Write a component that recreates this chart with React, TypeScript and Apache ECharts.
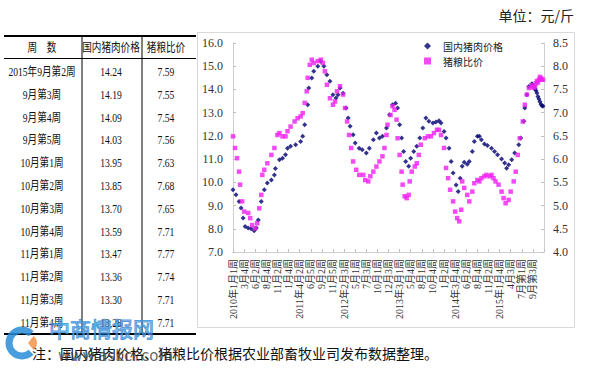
import React, { useEffect, useRef } from 'react';
import * as echarts from 'echarts';

// x-axis labels (one every 11 weeks, week index 0 = 2010年1月1周)
const xLabels = [
  '2010年1月1周', '3月4周', '6月2周', '8月4周', '11月2周', '1月4周', '2011年4月2周',
  '6月5周', '9月2周', '11月5周', '2012年2月3周', '5月1周', '7月3周', '10月1周', '12月3周',
  '2013年3月1周', '5月4周', '8月1周', '10月4周', '1月2周', '2014年3月4周', '6月2周',
  '8月4周', '11月2周', '2015年1月4周', '4月3周', '7月第1周', '9月第3周',
];
const labelStep = 11;

// table (latest 12 weeks)
const tableWeeks = [
  '2015年9月第2周', '9月第3周', '9月第4周', '9月第5周', '10月第1周', '10月第2周',
  '10月第3周', '10月第4周', '11月第1周', '11月第2周', '11月第3周', '11月第4周',
];
const tablePrice = [14.24, 14.19, 14.09, 14.03, 13.95, 13.85, 13.7, 13.59, 13.47, 13.36, 13.3, 13.28];
const tableRatio = [7.59, 7.55, 7.54, 7.56, 7.63, 7.68, 7.65, 7.71, 7.77, 7.74, 7.71, 7.71];
const tableStartWeek = 296;

// 国内猪肉价格 (元/斤), [week index, value]
const pricePoints: [number, number][] = [
  [0, 9.68], [3, 9.46], [6, 9.18], [8, 8.89], [10, 8.46], [12, 8.1], [15, 8.03], [18, 8.0],
  [21, 7.91], [23, 8.03], [25, 8.38], [28, 9.18], [31, 9.68], [34, 9.97], [38, 10.1], [41, 10.32],
  [42, 10.6], [46, 10.97], [49, 11.04], [52, 11.19], [54, 11.47], [57, 11.55], [62, 11.62],
  [67, 11.76], [69, 11.98], [71, 12.48], [74, 13.34], [75, 14.06], [78, 14.49], [80, 14.78],
  [84, 15.0], [87, 15.21], [90, 15.0], [93, 14.63], [96, 14.35], [99, 13.77], [102, 13.63],
  [104, 13.77], [106, 14.06], [109, 13.84], [112, 13.2], [114, 12.77], [116, 12.41], [119, 12.05],
  [121, 11.69], [125, 11.47], [128, 11.4], [132, 11.26], [135, 11.47], [139, 11.83], [142, 12.12],
  [145, 11.91], [148, 11.98], [152, 12.34], [155, 12.91], [158, 13.34], [161, 13.41], [163, 13.2],
  [165, 12.48], [167, 11.91], [169, 11.33], [171, 10.9], [174, 10.69], [176, 11.04], [179, 11.33],
  [182, 11.55], [185, 11.91], [188, 12.34], [191, 12.77], [194, 12.63], [198, 12.55], [201, 12.6],
  [204, 12.65], [206, 12.55], [209, 12.19], [211, 11.91], [214, 11.47], [216, 10.9], [218, 10.4],
  [221, 9.89], [223, 9.61], [225, 10.18], [227, 10.69], [229, 10.87], [232, 10.78], [234, 10.9],
  [237, 11.33], [239, 11.76], [242, 11.98], [244, 11.98], [246, 11.83], [249, 11.65], [252, 11.59],
  [256, 11.47], [259, 11.33], [262, 11.19], [266, 11.01], [269, 10.83], [271, 10.61], [273, 10.76],
  [276, 10.97], [279, 11.26], [283, 11.62], [285, 11.91], [288, 12.63], [289, 13.2], [291, 13.77],
  [293, 14.13],
];

// 猪粮比价, [week index, value]
const ratioPoints: [number, number][] = [
  [0, 6.49], [2, 6.24], [4, 6.02], [6, 5.73], [7, 5.45], [9, 5.09], [11, 4.87], [15, 4.84],
  [17, 4.73], [19, 4.58], [22, 4.51], [24, 4.62], [26, 4.94], [28, 5.23], [29, 5.66], [31, 5.77],
  [34, 5.91], [38, 6.09], [41, 6.24], [44, 6.52], [46, 6.56], [49, 6.49], [52, 6.49], [54, 6.6],
  [57, 6.7], [61, 6.81], [64, 6.88], [67, 6.92], [69, 6.99], [71, 7.21], [73, 7.46], [74, 7.75],
  [76, 8.03], [78, 8.14], [80, 8.07], [84, 8.11], [87, 8.14], [89, 8.07], [91, 7.89], [93, 7.6],
  [96, 7.31], [99, 7.17], [101, 7.24], [103, 7.46], [106, 7.57], [109, 7.39], [111, 7.1],
  [113, 6.81], [115, 6.52], [117, 6.24], [119, 5.95], [122, 5.77], [125, 5.66], [129, 5.66],
  [131, 5.55], [134, 5.52], [136, 5.63], [139, 5.73], [142, 5.84], [145, 5.95], [148, 6.06],
  [150, 6.24], [152, 6.52], [153, 6.74], [156, 6.95], [158, 7.14], [160, 7.06], [162, 6.85],
  [163, 6.45], [165, 6.09], [167, 5.73], [168, 5.45], [170, 5.2], [172, 5.16], [174, 5.23],
  [175, 5.52], [177, 5.73], [180, 5.84], [182, 5.91], [184, 6.09], [186, 6.31], [190, 6.45],
  [193, 6.49], [196, 6.49], [199, 6.56], [202, 6.63], [204, 6.63], [206, 6.52], [209, 6.24],
  [211, 5.81], [213, 5.59], [215, 5.34], [218, 5.09], [220, 4.87], [222, 4.73], [224, 4.66],
  [226, 4.91], [227, 5.52], [229, 5.38], [232, 5.23], [234, 5.09], [237, 5.3], [239, 5.48],
  [242, 5.55], [244, 5.52], [246, 5.59], [249, 5.63], [251, 5.66], [254, 5.63], [256, 5.66],
  [258, 5.59], [260, 5.52], [263, 5.45], [266, 5.3], [268, 5.16], [270, 5.05], [273, 5.12],
  [275, 5.3], [278, 5.52], [280, 5.73], [282, 6.09], [284, 6.45], [287, 6.81], [289, 7.17],
  [291, 7.39], [293, 7.53],
];

const SERIF = "'Liberation Serif', 'Noto Sans CJK SC', serif";
const CJK = "'Noto Sans CJK SC', sans-serif";

export default function App() {
  const ref = useRef<HTMLDivElement>(null);

  useEffect(() => {
    const chart = echarts.init(ref.current!, undefined, { renderer: 'svg' });

    const priceData = pricePoints.concat(
      tablePrice.map((v, i) => [tableStartWeek + i, v] as [number, number])
    );
    const ratioData = ratioPoints.concat(
      tableRatio.map((v, i) => [tableStartWeek + i, v] as [number, number])
    );

    const colX = [42, 111, 166];
    const rowY0 = 71.5;
    const rowH = 22.8;
    const txt = (text: string, x: number, y: number, extra: any = {}) => ({
      type: 'text',
      x,
      y,
      scaleX: 0.8,
      style: {
        text,
        fontSize: 12,
        fontFamily: SERIF,
        fill: '#111',
        align: 'center',
        textAlign: 'center',
        verticalAlign: 'middle',
        textVerticalAlign: 'middle',
        ...extra,
      },
    });
    const tableEls: any[] = [
      txt('周　数', colX[0], 47.5),
      txt('国内猪肉价格', colX[1], 47.5),
      txt('猪粮比价', colX[2], 47.5),
    ];
    tableWeeks.forEach((w, i) => {
      const y = rowY0 + i * rowH;
      tableEls.push(txt(w, colX[0], y));
      tableEls.push(txt(tablePrice[i].toFixed(2), colX[1], y));
      tableEls.push(txt(tableRatio[i].toFixed(2), colX[2], y));
    });
    const line = (x1: number, y1: number, x2: number, y2: number, w: number) => ({
      type: 'line',
      shape: { x1, y1, x2, y2 },
      style: { stroke: '#000', lineWidth: w },
    });
    tableEls.push(line(4, 36, 196, 36, 2));
    tableEls.push(line(4, 58.5, 196, 58.5, 1));
    tableEls.push(line(82, 36, 82, 334, 1));
    tableEls.push(line(142, 36, 142, 334, 1));
    tableEls.push(line(4, 334, 196, 334, 2));

    const option: any = {
      animation: false,
      backgroundColor: '#fff',
      grid: { left: 233, right: 56, top: 43, bottom: 116, containLabel: false },
      legend: {
        orient: 'vertical',
        left: 424,
        top: 41,
        padding: 0,
        itemWidth: 7,
        itemHeight: 7,
        itemGap: 5,
        textStyle: { fontSize: 10, fontFamily: CJK, color: '#222', padding: [0, 0, 0, 7] },
        data: [
          { name: '国内猪肉价格', icon: 'diamond' },
          { name: '猪粮比价', icon: 'rect' },
        ],
      },
      xAxis: {
        type: 'value',
        min: 0,
        max: labelStep * xLabels.length,
        interval: labelStep,
        splitLine: { show: false },
        axisLine: { lineStyle: { color: '#cfcfcf' } },
        axisTick: { inside: true, length: 3, lineStyle: { color: '#bfbfbf' } },
        axisLabel: {
          rotate: 90,
          fontSize: 10,
          margin: 7,
          color: '#333',
          fontFamily: SERIF,
          formatter: (v: number) => (v % labelStep === 0 ? xLabels[v / labelStep] ?? '' : ''),
        },
      },
      yAxis: [
        {
          type: 'value',
          position: 'left',
          min: 7,
          max: 16,
          interval: 1,
          splitLine: { show: false },
          axisLine: { show: true, lineStyle: { color: '#cfcfcf' } },
          axisTick: { show: true, inside: true, length: 3, lineStyle: { color: '#bfbfbf' } },
          axisLabel: { formatter: (v: number) => v.toFixed(1), fontSize: 12, fontFamily: SERIF, color: '#333', margin: 10 },
        },
        {
          type: 'value',
          position: 'right',
          min: 4,
          max: 8.5,
          interval: 0.5,
          splitLine: { show: false },
          axisLine: { show: true, lineStyle: { color: '#cfcfcf' } },
          axisTick: { show: true, inside: true, length: 3, lineStyle: { color: '#bfbfbf' } },
          axisLabel: { formatter: (v: number) => v.toFixed(1), fontSize: 12, fontFamily: SERIF, color: '#333', margin: 9 },
        },
      ],
      series: [
        {
          type: 'scatter',
          name: '国内猪肉价格',
          yAxisIndex: 0,
          symbol: 'diamond',
          symbolSize: 5,
          itemStyle: { color: '#000070' },
          data: priceData,
        },
        {
          type: 'scatter',
          name: '猪粮比价',
          yAxisIndex: 1,
          symbol: 'rect',
          symbolSize: 4.5,
          itemStyle: { color: '#f01ef0' },
          data: ratioData,
        },
      ],
      graphic: [
        {
          type: 'rect',
          z: -1,
          shape: { x: 197.5, y: 32.5, width: 377, height: 295 },
          style: { fill: 'none', stroke: '#d9d9d9', lineWidth: 1 },
        },
        {
          type: 'text',
          x: 574,
          y: 15,
          style: {
            text: '单位：元/斤',
            fontSize: 14,
            fontFamily: CJK,
            fill: '#222',
            align: 'right',
            textAlign: 'right',
            verticalAlign: 'middle',
            textVerticalAlign: 'middle',
          },
        },
        ...tableEls,
        {
          type: 'text',
          x: 32,
          y: 353,
          style: {
            text: '注：国内猪肉价格、猪粮比价根据农业部畜牧业司发布数据整理。',
            fontSize: 14,
            fontFamily: CJK,
            fill: '#111',
            align: 'left',
            textAlign: 'left',
            verticalAlign: 'middle',
            textVerticalAlign: 'middle',
          },
        },
        // watermark logo
        {
          type: 'arc',
          shape: { cx: 22, cy: 343, r: 13, startAngle: 0.8, endAngle: Math.PI * 2 - 0.8 },
          style: { stroke: 'rgba(40,140,215,0.85)', lineWidth: 7, fill: 'none' },
        },
        {
          type: 'sector',
          shape: { cx: 28, cy: 343, r0: 0, r: 9, startAngle: -0.9, endAngle: 0.9 },
          style: { fill: 'rgba(240,140,60,0.8)' },
        },
        {
          type: 'text',
          x: 49,
          y: 327.5,
          style: {
            text: '中商情报网',
            fontSize: 21,
            fontFamily: CJK,
            fill: 'rgba(80,160,225,0.55)',
            stroke: 'rgba(40,130,210,0.8)',
            lineWidth: 1,
            align: 'left',
            textAlign: 'left',
            verticalAlign: 'middle',
            textVerticalAlign: 'middle',
          },
        },
        {
          type: 'text',
          x: 58,
          y: 356,
          style: {
            text: 'www.askci.com',
            fontSize: 15,
            fontFamily: "'DejaVu Sans', sans-serif",
            fill: 'rgba(50,50,50,0.75)',
            align: 'left',
            textAlign: 'left',
            verticalAlign: 'middle',
            textVerticalAlign: 'middle',
          },
        },
      ],
    };

    chart.setOption(option);
    return () => chart.dispose();
  }, []);

  return (
    <div
      ref={ref}
      style={{ position: 'fixed', left: 0, top: 0, width: 600, height: 368, background: '#fff' }}
    />
  );
}
